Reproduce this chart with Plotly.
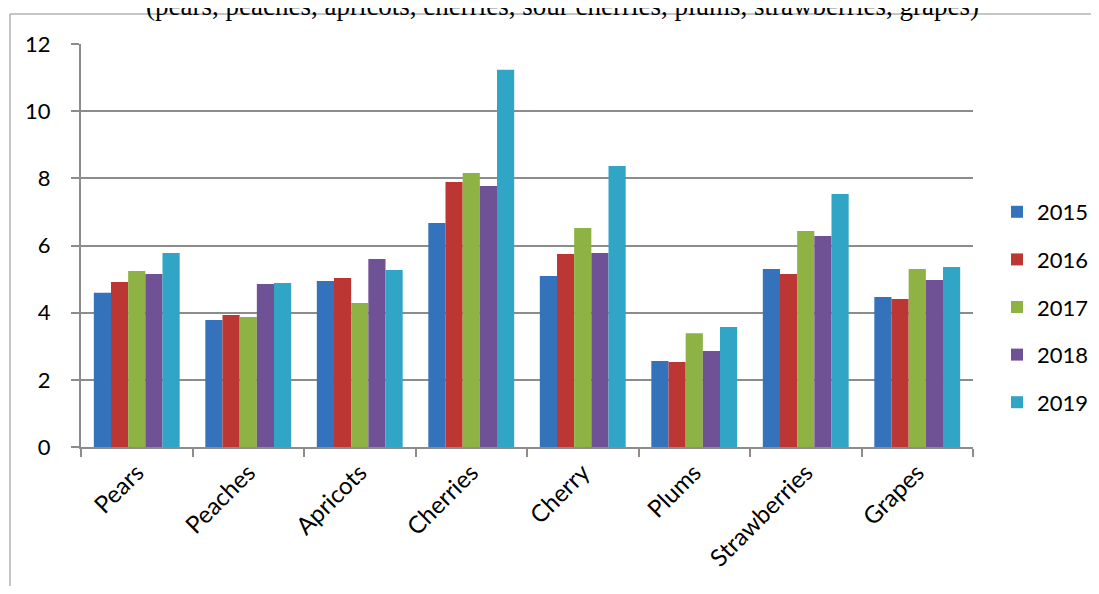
import plotly.graph_objects as go

categories = ["Pears", "Peaches", "Apricots", "Cherries", "Cherry", "Plums", "Strawberries", "Grapes"]
years = ["2015", "2016", "2017", "2018", "2019"]
v2015 = [4.59, 3.78, 4.94, 6.67, 5.09, 2.56, 5.30, 4.47]
v2016 = [4.91, 3.93, 5.03, 7.89, 5.75, 2.53, 5.15, 4.41]
v2017 = [5.24, 3.87, 4.29, 8.16, 6.52, 3.39, 6.43, 5.30]
v2018 = [5.15, 4.85, 5.60, 7.77, 5.78, 2.86, 6.28, 4.97]
v2019 = [5.78, 4.88, 5.27, 11.23, 8.37, 3.57, 7.53, 5.36]
series = [v2015, v2016, v2017, v2018, v2019]
colors = ["#3572BC", "#BC3734", "#8EB243", "#6F5196", "#31A5C5"]
title_text = "(pears, peaches, apricots, cherries, sour cherries, plums, strawberries, grapes)"

fig = go.Figure()
for y, vals, c in zip(years, series, colors):
    fig.add_trace(go.Bar(name=y, x=categories, y=vals, marker=dict(color=c, line=dict(width=0)),
                         legendgroup=y))

# page is offset by the default 8px body margin
OFF = 8
W, H = 1099 - 2 * OFF, 594 - 2 * OFF
PL, PR, PT, PB = 81, 973, 44, 447  # plot area in page pixels
L, R, T, B = PL - OFF, W - (PR - OFF), PT - OFF, H - (PB - OFF)
pw, ph = PR - PL, PB - PT

def px_x(page_x):
    return (page_x - PL) / pw

def px_y(page_y):
    return (PB - page_y) / ph

border = dict(color="#8C8C8C", width=1)
fig.update_layout(
    width=W, height=H,
    margin=dict(l=L, r=R, t=T, b=B, autoexpand=False),
    barmode="group", bargap=0.23, bargroupgap=0,
    plot_bgcolor="white", paper_bgcolor="white",
    font=dict(family="Lato", color="black"),
    showlegend=True,
    legend=dict(xref="container", yref="container",
                x=(997 - OFF) / W, xanchor="left", y=1 - (307 - OFF) / H, yanchor="middle",
                font=dict(size=22, family="Lato"), tracegroupgap=16, bgcolor="rgba(0,0,0,0)"),
    xaxis=dict(tickson="boundaries", ticks="outside", ticklen=8, tickcolor="#8C8C8C", tickwidth=2,
               showline=True, linecolor="#8C8C8C", linewidth=2, tickangle=-45,
               tickfont=dict(size=24, family="Lato"), showgrid=False, automargin=False),
    yaxis=dict(range=[0, 12], dtick=2, ticks="outside", ticklen=8, tickcolor="#8C8C8C", tickwidth=2,
               showline=True, linecolor="#8C8C8C", linewidth=2, gridcolor="#8C8C8C", gridwidth=2,
               zeroline=False, tickfont=dict(size=22, family="Lato"), ticklabelstandoff=16,
               automargin=False),
    annotations=[dict(text=title_text, xref="paper", yref="paper", x=px_x(562), y=1,
                      xanchor="center", yanchor="bottom", yshift=21, showarrow=False,
                      font=dict(family="Liberation Serif", size=27, color="black"))],
    shapes=[
        dict(type="line", xref="paper", yref="paper", x0=px_x(10), x1=1.5,
             y0=px_y(14), y1=px_y(14), line=border, layer="below"),
        dict(type="line", xref="paper", yref="paper", x0=px_x(10), x1=px_x(10),
             y0=px_y(14), y1=-0.6, line=border, layer="below"),
    ],
)

fig.write_html("out.html")
